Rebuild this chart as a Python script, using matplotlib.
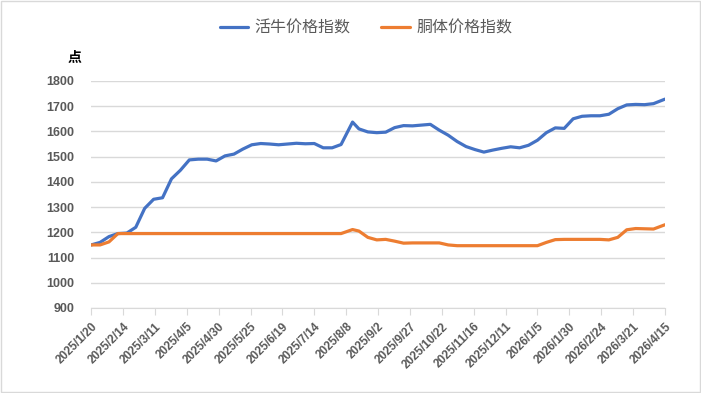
import pandas as pd
import matplotlib.pyplot as plt
from matplotlib.patches import Rectangle

plt.rcParams['font.family'] = ['Liberation Sans', 'Noto Sans CJK SC', 'DejaVu Sans']

dates = [
    "2025-01-20", "2025-01-27", "2025-02-03", "2025-02-10", "2025-02-17", "2025-02-24",
    "2025-03-03", "2025-03-10", "2025-03-17", "2025-03-24", "2025-03-31", "2025-04-07",
    "2025-04-14", "2025-04-21", "2025-04-28", "2025-05-05", "2025-05-12", "2025-05-19",
    "2025-05-26", "2025-06-02", "2025-06-09", "2025-06-16", "2025-06-23", "2025-06-30",
    "2025-07-07", "2025-07-14", "2025-07-21", "2025-07-28", "2025-08-04", "2025-08-13",
    "2025-08-18", "2025-08-25", "2025-09-01", "2025-09-08", "2025-09-15", "2025-09-22",
    "2025-09-29", "2025-10-06", "2025-10-13", "2025-10-20", "2025-10-27", "2025-11-03",
    "2025-11-10", "2025-11-17", "2025-11-24", "2025-12-01", "2025-12-08", "2025-12-15",
    "2025-12-22", "2025-12-29", "2026-01-05", "2026-01-12", "2026-01-19", "2026-01-26",
    "2026-02-02", "2026-02-09", "2026-02-16", "2026-02-23", "2026-03-02", "2026-03-09",
    "2026-03-16", "2026-03-23", "2026-03-30", "2026-04-06", "2026-04-15",
]

live_cattle = [
    1150, 1160, 1183, 1195, 1197, 1220,
    1295, 1331, 1337, 1412, 1446, 1487,
    1490, 1490, 1483, 1503, 1510, 1530,
    1547, 1552, 1550, 1547, 1550, 1553,
    1551, 1552, 1535, 1535, 1548, 1637,
    1610, 1598, 1595, 1597, 1615, 1623,
    1622, 1625, 1628, 1605, 1585, 1560,
    1540, 1528, 1518, 1526, 1533, 1539,
    1535, 1545, 1565, 1595, 1614, 1612,
    1650, 1660, 1662, 1662, 1668, 1690,
    1705, 1707, 1706, 1710, 1728,
]

carcass = [
    1150, 1150, 1162, 1195, 1195, 1195,
    1195, 1195, 1195, 1195, 1195, 1195,
    1195, 1195, 1195, 1195, 1195, 1195,
    1195, 1195, 1195, 1195, 1195, 1195,
    1195, 1195, 1195, 1195, 1195, 1211,
    1205, 1180, 1170, 1172, 1165, 1157,
    1158, 1158, 1158, 1158, 1150, 1147,
    1147, 1147, 1147, 1147, 1147, 1147,
    1147, 1147, 1147, 1160, 1171, 1172,
    1172, 1172, 1172, 1172, 1170, 1180,
    1210, 1215, 1214, 1213, 1230,
]

series_names = ["活牛价格指数", "胴体价格指数"]
y_ticks = [900, 1000, 1100, 1200, 1300, 1400, 1500, 1600, 1700, 1800]

df = pd.DataFrame({"date": pd.to_datetime(dates), "live": live_cattle, "carcass": carcass})
x_ticks = pd.date_range("2025-01-20", "2026-04-15", freq="25D")

grey = "#595959"

fig = plt.figure(figsize=(7.01, 3.93), dpi=100)
ax = fig.add_axes([0.130, 0.2163, 0.8186, 0.5777])

ax.plot(df["date"], df["live"], color="#4472C4", lw=2.3, solid_joinstyle="round",
        solid_capstyle="round", label=series_names[0], zorder=3)
ax.plot(df["date"], df["carcass"], color="#ED7D31", lw=2.3, solid_joinstyle="round",
        solid_capstyle="round", label=series_names[1], zorder=3)

ax.set_xlim(df["date"].iloc[0], df["date"].iloc[-1])
ax.set_ylim(900, 1800)
ax.set_yticks(y_ticks)
ax.set_xticks(x_ticks)
ax.set_xticklabels([f"{d.year}/{d.month}/{d.day}" for d in x_ticks],
                   rotation=45, ha="right", va="top", rotation_mode="anchor",
                   fontsize=8.5, fontweight="bold", color=grey)
for lab in ax.get_yticklabels():
    lab.set_fontsize(9)
    lab.set_fontweight("bold")
    lab.set_color(grey)

ax.grid(axis="y", color="#d9d9d9", lw=1)
ax.set_axisbelow(True)
for s in ["left", "right", "top"]:
    ax.spines[s].set_visible(False)
ax.spines["bottom"].set_color("#d9d9d9")
ax.tick_params(axis="y", length=0, pad=12)
ax.tick_params(axis="x", length=5, color="#d9d9d9", pad=4)

fig.text(0.107, 0.852, "点", fontsize=10, fontweight="bold", color="black",
         family=["Noto Sans CJK SC"], ha="center", va="center")

leg = fig.legend(loc="center", bbox_to_anchor=(0.522, 0.928), ncol=2, frameon=False,
                 prop={"family": ["Noto Sans CJK SC"], "size": 11.5},
                 handlelength=1.8, columnspacing=1.9, handletextpad=0.4)
for t in leg.get_texts():
    t.set_color(grey)

fig.patches.append(Rectangle((0.001, 0.002), 0.997, 0.995, transform=fig.transFigure,
                             fill=False, edgecolor="#d9d9d9", lw=1))

fig.savefig("out.png", dpi=100)
